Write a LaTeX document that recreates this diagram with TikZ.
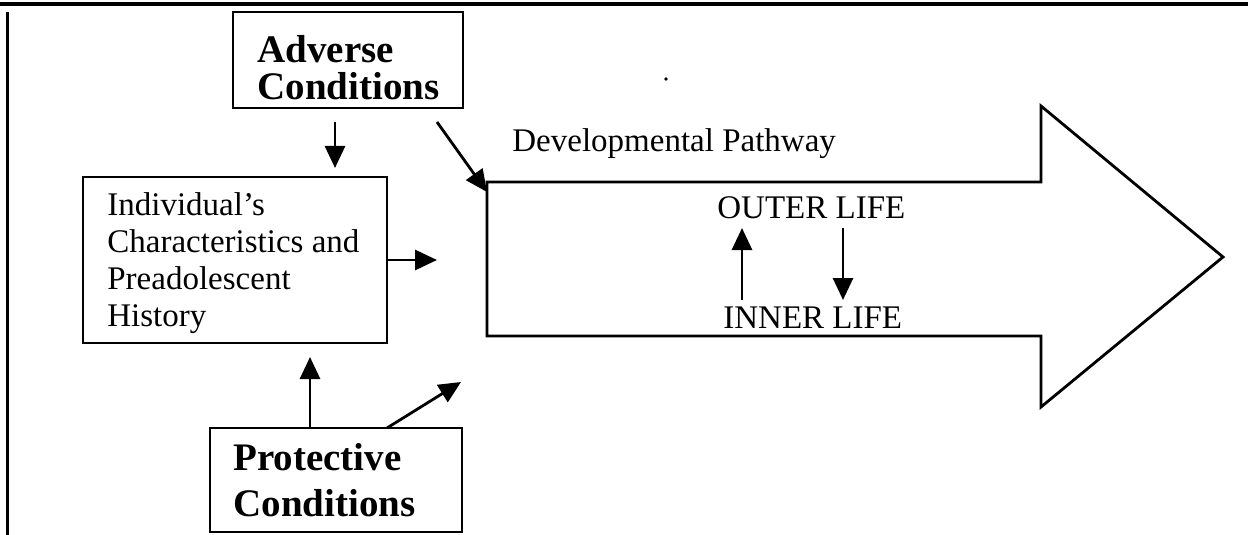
\documentclass[tikz,border=0pt]{standalone}
\usepackage{fontspec}
\setmainfont{Liberation Serif}
\usetikzlibrary{arrows.meta}
\begin{document}
\begin{tikzpicture}[x=0.5pt,y=-0.5pt,
  box/.style={draw, line width=1.4pt, inner sep=0pt, outer sep=0pt, anchor=north west},
  conn/.style={line width=1.4pt, -{Triangle[length=11pt,width=10pt]}},
  reg/.style={font=\fontsize{16.5}{18.5}\selectfont, inner sep=0pt, anchor=base west, align=left},
  bld/.style={font=\bfseries\fontsize{19.5}{18.5}\selectfont, inner sep=0pt, anchor=base west, align=left}]
\useasboundingbox (0,0) rectangle (1248,535);

% frame rules along the top and the left side
\draw[line width=2pt] (0,4) -- (1248,4);
\draw[line width=1.5pt] (7,12) -- (7,535);

% boxes
\node[box, minimum width=115pt, minimum height=48pt] (adv) at (233,12) {};
\node[box, minimum width=152pt, minimum height=83pt] (ind) at (83,177) {};
\node[box, minimum width=126pt, minimum height=52pt] (pro) at (210,428) {};

% box texts (multi-line nodes sit on the baseline of their last line)
\node[bld] (advtxt) at (257,100) {Adverse\\Conditions};
\node[reg] (indtxt) at (107,326) {Individual’s\\Characteristics and\\Preadolescent\\History};
\node[bld, font=\bfseries\fontsize{19.5}{23}\selectfont] (protxt) at (233,516) {Protective\\Conditions};

% the developmental pathway arrow
\draw[line width=1.4pt, line join=miter]
  (487,182) coordinate (pathNW) -- (1041,182) -- (1041,106) -- (1223,257) coordinate (pathtip)
  -- (1041,407) -- (1041,336) -- (487,336) coordinate (pathSW) -- cycle;
\node[reg] (dev) at (512,152) {Developmental Pathway};
\node[reg] (outer) at (717,218) {OUTER LIFE};
\node[reg] (inner) at (723,328) {INNER LIFE};

% stray mark
\fill (666,79) circle[radius=1.8];

% connectors
\coordinate (advdownA) at ([shift={(-13,14)}]adv.south);
\coordinate (advdownB) at ([shift={(100,-9)}]ind.north);
\draw[conn] (advdownA) -- (advdownB);

\coordinate (advdiagA) at ([shift={(-26,14)}]adv.south east);
\coordinate (pathentry) at ([shift={(0,10)}]pathNW);
\draw[conn] (advdiagA) -- (pathentry);

\coordinate (indout) at ([shift={(50,0)}]ind.east);
\draw[conn] (ind.east) -- (indout);

\coordinate (proup) at ([shift={(100,0)}]pro.north west);
\coordinate (indin) at ([shift={(75,14)}]ind.south);
\draw[conn] (proup) -- (indin);

\coordinate (prodiag) at ([shift={(177,0)}]pro.north west);
\coordinate (prodiagB) at ([shift={(74,-46)}]prodiag);
\draw[conn] (prodiag) -- (prodiagB);

\draw[conn] ([shift={(19,-28)}]inner.base west) -- ([shift={(25,10)}]outer.base west);
\draw[conn] ([shift={(126,10)}]outer.base west) -- ([shift={(120,-28)}]inner.base west);
\end{tikzpicture}
\end{document}
